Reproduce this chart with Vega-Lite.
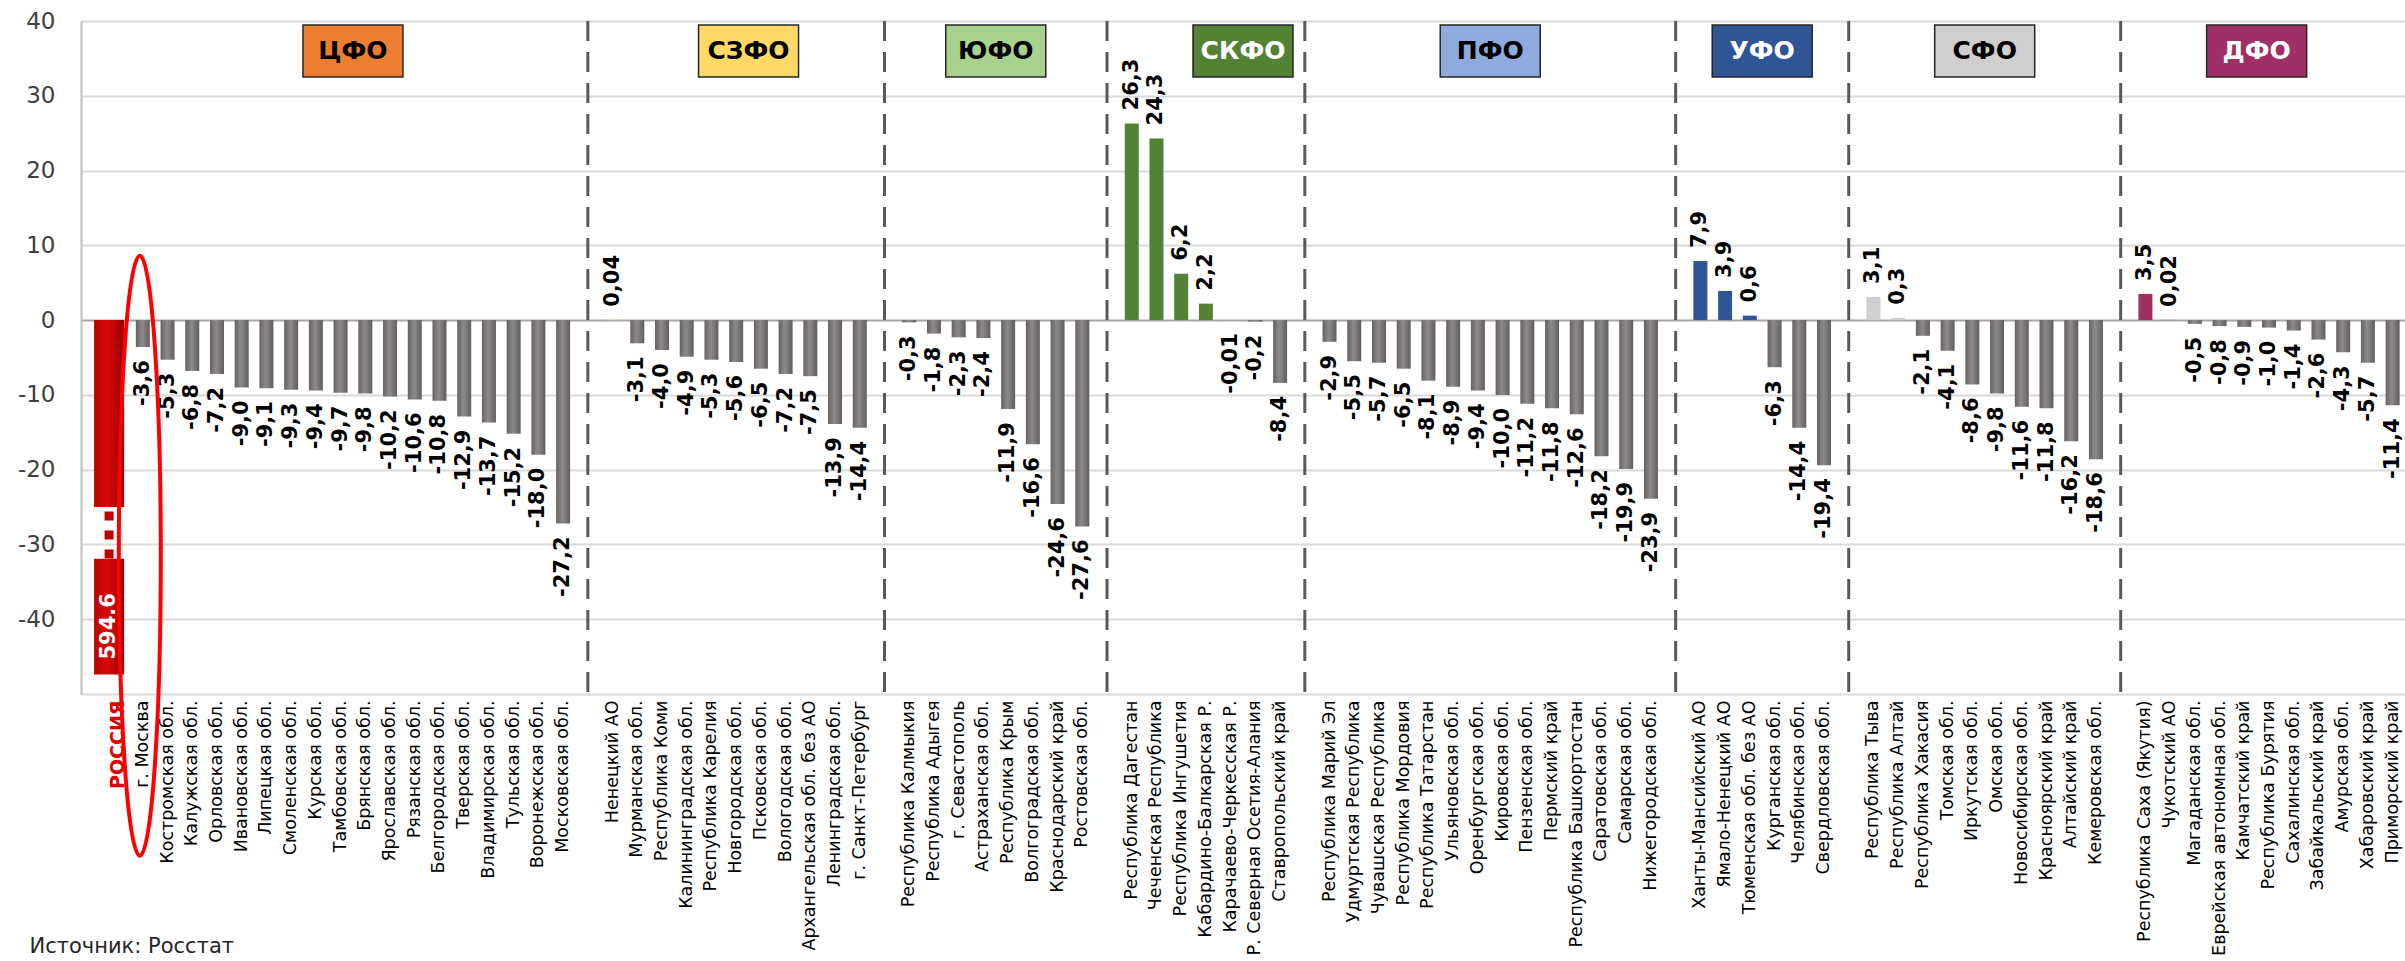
{
  "$schema": "https://vega.github.io/schema/vega-lite/v6.json",
  "autosize": {"type": "none"},
  "width": 2324,
  "height": 673,
  "padding": {"left": 81, "top": 21, "right": 0, "bottom": 267},
  "background": "white",
  "config": {
    "view": {"stroke": null},
    "font": "DejaVu Sans",
    "locale": {"number": {"decimal": ",", "thousands": " ", "grouping": [3], "currency": ["", ""], "minus": "-"}}
  },
  "datasets": {
    "regions": [
      {"region": "г. Москва", "district": "ЦФО", "v": -3.6},
      {"region": "Костромская обл.", "district": "ЦФО", "v": -5.3},
      {"region": "Калужская обл.", "district": "ЦФО", "v": -6.8},
      {"region": "Орловская обл.", "district": "ЦФО", "v": -7.2},
      {"region": "Ивановская обл.", "district": "ЦФО", "v": -9.0},
      {"region": "Липецкая обл.", "district": "ЦФО", "v": -9.1},
      {"region": "Смоленская обл.", "district": "ЦФО", "v": -9.3},
      {"region": "Курская обл.", "district": "ЦФО", "v": -9.4},
      {"region": "Тамбовская обл.", "district": "ЦФО", "v": -9.7},
      {"region": "Брянская обл.", "district": "ЦФО", "v": -9.8},
      {"region": "Ярославская обл.", "district": "ЦФО", "v": -10.2},
      {"region": "Рязанская обл.", "district": "ЦФО", "v": -10.6},
      {"region": "Белгородская обл.", "district": "ЦФО", "v": -10.8},
      {"region": "Тверская обл.", "district": "ЦФО", "v": -12.9},
      {"region": "Владимирская обл.", "district": "ЦФО", "v": -13.7},
      {"region": "Тульская обл.", "district": "ЦФО", "v": -15.2},
      {"region": "Воронежская обл.", "district": "ЦФО", "v": -18.0},
      {"region": "Московская обл.", "district": "ЦФО", "v": -27.2},
      {"region": "Ненецкий АО", "district": "СЗФО", "v": 0.04},
      {"region": "Мурманская обл.", "district": "СЗФО", "v": -3.1},
      {"region": "Республика Коми", "district": "СЗФО", "v": -4.0},
      {"region": "Калининградская обл.", "district": "СЗФО", "v": -4.9},
      {"region": "Республика Карелия", "district": "СЗФО", "v": -5.3},
      {"region": "Новгородская обл.", "district": "СЗФО", "v": -5.6},
      {"region": "Псковская обл.", "district": "СЗФО", "v": -6.5},
      {"region": "Вологодская обл.", "district": "СЗФО", "v": -7.2},
      {"region": "Архангельская обл. без АО", "district": "СЗФО", "v": -7.5},
      {"region": "Ленинградская обл.", "district": "СЗФО", "v": -13.9},
      {"region": "г. Санкт-Петербург", "district": "СЗФО", "v": -14.4},
      {"region": "Республика Калмыкия", "district": "ЮФО", "v": -0.3},
      {"region": "Республика Адыгея", "district": "ЮФО", "v": -1.8},
      {"region": "г. Севастополь", "district": "ЮФО", "v": -2.3},
      {"region": "Астраханская обл.", "district": "ЮФО", "v": -2.4},
      {"region": "Республика Крым", "district": "ЮФО", "v": -11.9},
      {"region": "Волгоградская обл.", "district": "ЮФО", "v": -16.6},
      {"region": "Краснодарский край", "district": "ЮФО", "v": -24.6},
      {"region": "Ростовская обл.", "district": "ЮФО", "v": -27.6},
      {"region": "Республика Дагестан", "district": "СКФО", "v": 26.3},
      {"region": "Чеченская Республика", "district": "СКФО", "v": 24.3},
      {"region": "Республика Ингушетия", "district": "СКФО", "v": 6.2},
      {"region": "Кабардино-Балкарская Р.", "district": "СКФО", "v": 2.2},
      {"region": "Карачаево-Черкесская Р.", "district": "СКФО", "v": -0.01},
      {"region": "Р. Северная Осетия-Алания", "district": "СКФО", "v": -0.2},
      {"region": "Ставропольский край", "district": "СКФО", "v": -8.4},
      {"region": "Республика Марий Эл", "district": "ПФО", "v": -2.9},
      {"region": "Удмуртская Республика", "district": "ПФО", "v": -5.5},
      {"region": "Чувашская Республика", "district": "ПФО", "v": -5.7},
      {"region": "Республика Мордовия", "district": "ПФО", "v": -6.5},
      {"region": "Республика Татарстан", "district": "ПФО", "v": -8.1},
      {"region": "Ульяновская обл.", "district": "ПФО", "v": -8.9},
      {"region": "Оренбургская обл.", "district": "ПФО", "v": -9.4},
      {"region": "Кировская обл.", "district": "ПФО", "v": -10.0},
      {"region": "Пензенская обл.", "district": "ПФО", "v": -11.2},
      {"region": "Пермский край", "district": "ПФО", "v": -11.8},
      {"region": "Республика Башкортостан", "district": "ПФО", "v": -12.6},
      {"region": "Саратовская обл.", "district": "ПФО", "v": -18.2},
      {"region": "Самарская обл.", "district": "ПФО", "v": -19.9},
      {"region": "Нижегородская обл.", "district": "ПФО", "v": -23.9},
      {"region": "Ханты-Мансийский АО", "district": "УФО", "v": 7.9},
      {"region": "Ямало-Ненецкий АО", "district": "УФО", "v": 3.9},
      {"region": "Тюменская обл. без АО", "district": "УФО", "v": 0.6},
      {"region": "Курганская обл.", "district": "УФО", "v": -6.3},
      {"region": "Челябинская обл.", "district": "УФО", "v": -14.4},
      {"region": "Свердловская обл.", "district": "УФО", "v": -19.4},
      {"region": "Республика Тыва", "district": "СФО", "v": 3.1},
      {"region": "Республика Алтай", "district": "СФО", "v": 0.3},
      {"region": "Республика Хакасия", "district": "СФО", "v": -2.1},
      {"region": "Томская обл.", "district": "СФО", "v": -4.1},
      {"region": "Иркутская обл.", "district": "СФО", "v": -8.6},
      {"region": "Омская обл.", "district": "СФО", "v": -9.8},
      {"region": "Новосибирская обл.", "district": "СФО", "v": -11.6},
      {"region": "Красноярский край", "district": "СФО", "v": -11.8},
      {"region": "Алтайский край", "district": "СФО", "v": -16.2},
      {"region": "Кемеровская обл.", "district": "СФО", "v": -18.6},
      {"region": "Республика Саха (Якутия)", "district": "ДФО", "v": 3.5},
      {"region": "Чукотский АО", "district": "ДФО", "v": 0.02},
      {"region": "Магаданская обл.", "district": "ДФО", "v": -0.5},
      {"region": "Еврейская автономная обл.", "district": "ДФО", "v": -0.8},
      {"region": "Камчатский край", "district": "ДФО", "v": -0.9},
      {"region": "Республика Бурятия", "district": "ДФО", "v": -1.0},
      {"region": "Сахалинская обл.", "district": "ДФО", "v": -1.4},
      {"region": "Забайкальский край", "district": "ДФО", "v": -2.6},
      {"region": "Амурская обл.", "district": "ДФО", "v": -4.3},
      {"region": "Хабаровский край", "district": "ДФО", "v": -5.7},
      {"region": "Приморский край", "district": "ДФО", "v": -11.4}
    ],
    "russia": [{"region": "РОССИЯ", "v": -594.6, "label": "594.6"}],
    "headers": [
      {"district": "ЦФО", "region": "Тамбовская обл."},
      {"district": "СЗФО", "region": "Новгородская обл."},
      {"district": "ЮФО", "region": "Астраханская обл."},
      {"district": "СКФО", "region": "Карачаево-Черкесская Р."},
      {"district": "ПФО", "region": "Оренбургская обл."},
      {"district": "УФО", "region": "Тюменская обл. без АО"},
      {"district": "СФО", "region": "Иркутская обл."},
      {"district": "ДФО", "region": "Камчатский край"}
    ],
    "seps": [
      {"region": "_s1"}, {"region": "_s2"}, {"region": "_s3"}, {"region": "_s4"},
      {"region": "_s5"}, {"region": "_s6"}, {"region": "_s7"}
    ]
  },
  "layer": [
    {
      "data": {"name": "regions"},
      "transform": [{"filter": "datum.v < 0"}],
      "mark": {"type": "bar", "width": 14, "color": {"gradient": "linear", "x1": 0, "y1": 0, "x2": 1, "y2": 0, "stops": [{"offset": 0, "color": "#676363"}, {"offset": 0.45, "color": "#8e8a8a"}, {"offset": 1, "color": "#625e5e"}]}},
      "encoding": {
        "x": {"field": "region", "type": "nominal",
          "scale": {"type": "band", "paddingInner": 0, "paddingOuter": 0, "domain": ["_s0","РОССИЯ","г. Москва","Костромская обл.","Калужская обл.","Орловская обл.","Ивановская обл.","Липецкая обл.","Смоленская обл.","Курская обл.","Тамбовская обл.","Брянская обл.","Ярославская обл.","Рязанская обл.","Белгородская обл.","Тверская обл.","Владимирская обл.","Тульская обл.","Воронежская обл.","Московская обл.","_s1","Ненецкий АО","Мурманская обл.","Республика Коми","Калининградская обл.","Республика Карелия","Новгородская обл.","Псковская обл.","Вологодская обл.","Архангельская обл. без АО","Ленинградская обл.","г. Санкт-Петербург","_s2","Республика Калмыкия","Республика Адыгея","г. Севастополь","Астраханская обл.","Республика Крым","Волгоградская обл.","Краснодарский край","Ростовская обл.","_s3","Республика Дагестан","Чеченская Республика","Республика Ингушетия","Кабардино-Балкарская Р.","Карачаево-Черкесская Р.","Р. Северная Осетия-Алания","Ставропольский край","_s4","Республика Марий Эл","Удмуртская Республика","Чувашская Республика","Республика Мордовия","Республика Татарстан","Ульяновская обл.","Оренбургская обл.","Кировская обл.","Пензенская обл.","Пермский край","Республика Башкортостан","Саратовская обл.","Самарская обл.","Нижегородская обл.","_s5","Ханты-Мансийский АО","Ямало-Ненецкий АО","Тюменская обл. без АО","Курганская обл.","Челябинская обл.","Свердловская обл.","_s6","Республика Тыва","Республика Алтай","Республика Хакасия","Томская обл.","Иркутская обл.","Омская обл.","Новосибирская обл.","Красноярский край","Алтайский край","Кемеровская обл.","_s7","Республика Саха (Якутия)","Чукотский АО","Магаданская обл.","Еврейская автономная обл.","Камчатский край","Республика Бурятия","Сахалинская обл.","Забайкальский край","Амурская обл.","Хабаровский край","Приморский край"]},
          "axis": {"orient": "bottom", "title": "Источник: Росстат", "titleX": -52, "titleY": 252, "titleAlign": "left", "titleAnchor": "start", "titleAngle": 0, "titleBaseline": "middle", "titleFont": "DejaVu Sans", "titleFontSize": 21, "titleFontWeight": "normal", "titleColor": "#262626",
            "domain": false, "ticks": false, "grid": false, "labelAngle": -90, "labelAlign": "right", "labelBaseline": "middle", "labelPadding": 6, "labelLimit": 500, "labelOverlap": false, "labelBound": false,
            "labelFont": "DejaVu Sans",
            "labelFontSize": {"condition": {"test": "datum.value == 'РОССИЯ'", "value": 19}, "value": 17.5},
            "labelFontWeight": {"condition": {"test": "datum.value == 'РОССИЯ'", "value": "bold"}, "value": "normal"},
            "labelColor": {"condition": {"test": "datum.value == 'РОССИЯ'", "value": "#e00000"}, "value": "#000000"},
            "labelExpr": "indexof(datum.value, '_s') == 0 ? '' : datum.label"}},
        "y": {"field": "v", "type": "quantitative", "scale": {"domain": [-50, 40], "nice": false, "zero": false},
          "axis": {"title": null, "values": [-50, -40, -30, -20, -10, 0, 10, 20, 30, 40], "ticks": false, "domain": true, "domainColor": "#bfbfbf", "domainWidth": 2,
            "grid": true, "gridWidth": 2, "gridColor": {"condition": {"test": "datum.value == 0", "value": "#a6a6a6"}, "value": "#d9d9d9"},
            "labelFont": "DejaVu Sans", "labelFontSize": 23, "labelColor": "#404040", "labelPadding": 26,
            "labelExpr": "datum.value == -50 ? '' : datum.label"}}
      }
    },
    {
      "data": {"name": "seps"},
      "mark": {"type": "rule", "color": "#595959", "strokeWidth": 3, "strokeDash": [20, 11]},
      "encoding": {
        "x": {"field": "region", "type": "nominal", "scale": {"type": "band"}},
        "y": {"datum": 40, "type": "quantitative"},
        "y2": {"datum": -50}
      }
    },
    {
      "data": {"name": "regions"},
      "transform": [{"filter": "datum.v >= 0"}],
      "mark": {"type": "bar", "width": 14},
      "encoding": {
        "x": {"field": "region", "type": "nominal", "scale": {"type": "band"}},
        "y": {"field": "v", "type": "quantitative"},
        "color": {"field": "district", "type": "nominal", "legend": null,
          "scale": {"domain": ["ЦФО", "СЗФО", "ЮФО", "СКФО", "ПФО", "УФО", "СФО", "ДФО"],
            "range": ["#ED7D31", "#FFD966", "#A9D18E", "#548235", "#8FAADC", "#2F5597", "#D0CECE", "#9E3065"]}}
      }
    },
    {
      "data": {"name": "russia"},
      "mark": {"type": "bar", "width": 30, "xOffset": -9, "color": {"gradient": "linear", "x1": 0, "y1": 0, "x2": 1, "y2": 0, "stops": [{"offset": 0, "color": "#b80000"}, {"offset": 0.45, "color": "#d80a0a"}, {"offset": 1, "color": "#9a0000"}]}},
      "encoding": {
        "x": {"field": "region", "type": "nominal", "scale": {"type": "band"}},
        "y": {"datum": 0, "type": "quantitative"},
        "y2": {"datum": -25}
      }
    },
    {
      "data": {"name": "russia"},
      "mark": {"type": "bar", "width": 30, "xOffset": -9, "color": {"gradient": "linear", "x1": 0, "y1": 0, "x2": 1, "y2": 0, "stops": [{"offset": 0, "color": "#b80000"}, {"offset": 0.45, "color": "#d80a0a"}, {"offset": 1, "color": "#9a0000"}]}},
      "encoding": {
        "x": {"field": "region", "type": "nominal", "scale": {"type": "band"}},
        "y": {"datum": -31.9, "type": "quantitative"},
        "y2": {"datum": -47.4}
      }
    },
    {
      "data": {"name": "russia"},
      "mark": {"type": "rule", "xOffset": -9, "color": "#c00000", "strokeWidth": 9, "strokeDash": [9, 10]},
      "encoding": {
        "x": {"field": "region", "type": "nominal", "scale": {"type": "band"}},
        "y": {"datum": -25.6, "type": "quantitative"},
        "y2": {"datum": -31.9}
      }
    },
    {
      "data": {"name": "russia"},
      "mark": {"type": "text", "xOffset": -9, "angle": 270, "align": "left", "baseline": "middle", "dx": 15, "font": "DejaVu Sans", "fontWeight": "bold", "fontSize": 21, "color": "white"},
      "encoding": {
        "x": {"field": "region", "type": "nominal", "scale": {"type": "band"}},
        "y": {"datum": -47.4, "type": "quantitative"},
        "text": {"field": "label", "type": "nominal"}
      }
    },
    {
      "data": {"name": "regions"},
      "transform": [{"filter": "datum.v < 0"}],
      "mark": {"type": "text", "angle": 270, "align": "right", "baseline": "middle", "dx": -13, "font": "DejaVu Sans", "fontWeight": "bold", "fontSize": 21, "color": "#000000"},
      "encoding": {
        "x": {"field": "region", "type": "nominal", "scale": {"type": "band"}},
        "y": {"field": "v", "type": "quantitative"},
        "text": {"condition": {"test": "abs(datum.v) < 0.1", "field": "v", "type": "quantitative", "format": ".2f"}, "field": "v", "type": "quantitative", "format": ".1f"}
      }
    },
    {
      "data": {"name": "regions"},
      "transform": [{"filter": "datum.v >= 0"}],
      "mark": {"type": "text", "angle": 270, "align": "left", "baseline": "middle", "dx": 13, "font": "DejaVu Sans", "fontWeight": "bold", "fontSize": 21, "color": "#000000"},
      "encoding": {
        "x": {"field": "region", "type": "nominal", "scale": {"type": "band"}},
        "y": {"field": "v", "type": "quantitative"},
        "text": {"condition": {"test": "abs(datum.v) < 0.1", "field": "v", "type": "quantitative", "format": ".2f"}, "field": "v", "type": "quantitative", "format": ".1f"}
      }
    },
    {
      "data": {"name": "headers"},
      "mark": {"type": "point", "shape": "M-1,-0.52H1V0.52H-1Z", "size": 10000, "filled": true, "opacity": 1, "stroke": "#262626", "strokeWidth": 1.5},
      "encoding": {
        "x": {"field": "region", "type": "nominal", "bandPosition": 1, "scale": {"type": "band"}},
        "y": {"datum": 36, "type": "quantitative"},
        "color": {"field": "district", "type": "nominal", "legend": null}
      }
    },
    {
      "data": {"name": "headers"},
      "mark": {"type": "text", "baseline": "middle", "align": "center", "font": "DejaVu Sans", "fontWeight": "bold", "fontSize": 25},
      "encoding": {
        "x": {"field": "region", "type": "nominal", "bandPosition": 1, "scale": {"type": "band"}},
        "y": {"datum": 36, "type": "quantitative"},
        "text": {"field": "district", "type": "nominal"},
        "color": {"condition": {"test": "datum.district == 'СКФО' || datum.district == 'УФО' || datum.district == 'ДФО'", "value": "#ffffff"}, "value": "#000000"}
      }
    },
    {
      "data": {"name": "regions"},
      "transform": [{"filter": "datum.region == 'г. Москва'"}],
      "mark": {"type": "point", "shape": "M0,-1C0.0387,-1 0.07,-0.5523 0.07,0C0.07,0.5523 0.0387,1 0,1C-0.0387,1 -0.07,0.5523 -0.07,0C-0.07,-0.5523 -0.0387,-1 0,-1Z", "size": 360000, "filled": false, "opacity": 1, "stroke": "#ff0000", "strokeWidth": 4, "xOffset": -3},
      "encoding": {
        "x": {"field": "region", "type": "nominal", "scale": {"type": "band"}},
        "y": {"datum": -31.5, "type": "quantitative"}
      }
    }
  ]
}
